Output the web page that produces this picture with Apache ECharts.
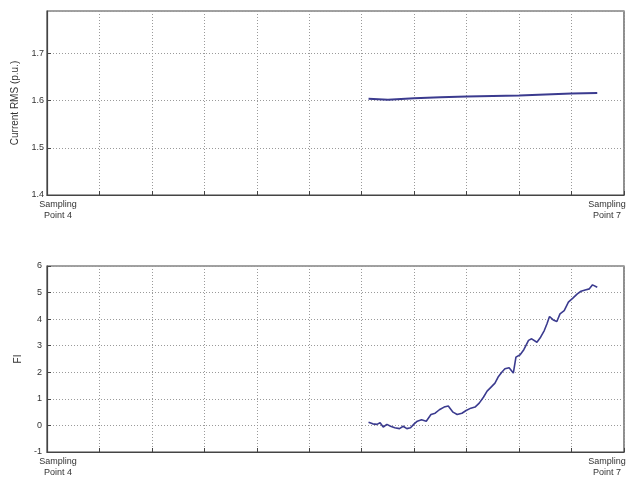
<!DOCTYPE html>
<html>
<head>
<meta charset="utf-8">
<script src="https://cdn.jsdelivr.net/npm/echarts@6/dist/echarts.min.js"></script>
<style>
  html, body { margin: 0; padding: 0; background: #fff; }
  #chart { width: 634px; height: 485px; }
</style>
</head>
<body>
<div id="chart"></div>
<script>
// x positions in grid cells (0 = Sampling Point 4, 11 = Sampling Point 7)
const rmsX = [6.13, 6.5, 7.0, 7.5, 8.0, 8.5, 9.0, 9.5, 10.0, 10.49]
const rmsY = [1.604, 1.602, 1.605, 1.607, 1.609, 1.610, 1.611, 1.613, 1.615, 1.616]

const fiX = [6.13, 6.21, 6.29, 6.35, 6.41, 6.48, 6.55, 6.63, 6.72, 6.79, 6.86, 6.93, 7.00, 7.06,
    7.14, 7.23, 7.32, 7.40, 7.48, 7.57, 7.65, 7.74, 7.82, 7.91, 7.99, 8.08, 8.16, 8.24, 8.32,
    8.39, 8.48, 8.54, 8.60, 8.67, 8.73, 8.81, 8.89, 8.94, 9.02, 9.09, 9.18, 9.24, 9.34, 9.41,
    9.48, 9.53, 9.58, 9.65, 9.72, 9.78, 9.86, 9.94, 10.03, 10.11, 10.18, 10.26, 10.34, 10.40, 10.49]
const fiY = [0.12, 0.06, 0.04, 0.10, -0.06, 0.04, -0.03, -0.09, -0.12, -0.03, -0.12, -0.09, 0.06, 0.16,
    0.21, 0.16, 0.41, 0.46, 0.59, 0.69, 0.73, 0.50, 0.41, 0.46, 0.56, 0.65, 0.69, 0.84, 1.06,
    1.29, 1.47, 1.59, 1.82, 2.00, 2.13, 2.17, 1.97, 2.57, 2.66, 2.85, 3.20, 3.26, 3.13, 3.32,
    3.57, 3.82, 4.10, 3.97, 3.91, 4.20, 4.32, 4.64, 4.80, 4.95, 5.05, 5.10, 5.14, 5.29, 5.20]

const font = 'Liberation Sans, Arial, sans-serif'
const lineColor = '#3b3b8f'
const gridLine = { show: true, lineStyle: { color: '#9a9a9a', type: [1, 2], width: 1 } }
const axisLine = { show: true, onZero: false, lineStyle: { color: '#444', width: 1.2 } }
const tick = { show: true, inside: true, length: 4, lineStyle: { color: '#444' } }

function xAxis(gridIndex) {
    return {
        type: 'value',
        gridIndex: gridIndex,
        min: 0,
        max: 11,
        interval: 1,
        axisLine: axisLine,
        axisTick: tick,
        splitLine: gridLine,
        axisLabel: {
            margin: 4,
            fontFamily: font,
            fontSize: 9,
            color: '#333',
            lineHeight: 11,
            formatter: function (v) {
                if (v === 0) return '{l|Sampling}\n{l|Point 4}'
                if (v === 11) return '{r|Sampling}\n{r|Point 7}'
                return ''
            },
            rich: {
                l: { fontFamily: font, fontSize: 9, color: '#333', padding: [0, 0, 0, 22], lineHeight: 11 },
                r: { fontFamily: font, fontSize: 9, color: '#333', padding: [0, 34, 0, 0], lineHeight: 11 },
            },
        },
    }
}

const chart = echarts.init(document.getElementById('chart'))
chart.setOption({
    backgroundColor: '#fff',
    animation: false,
    grid: [
        { left: 47, right: 10, top: 11, height: 184, show: true, borderColor: '#444', borderWidth: 1.2, outerBoundsMode: 'none', containLabel: false },
        { left: 47, right: 10, top: 266, height: 186, show: true, borderColor: '#444', borderWidth: 1.2, outerBoundsMode: 'none', containLabel: false },
    ],
    xAxis: [xAxis(0), xAxis(1)],
    yAxis: [
        {
            type: 'value',
            gridIndex: 0,
            min: 1.4,
            max: 1.79,
            interval: 0.1,
            name: 'Current RMS (p.u.)',
            nameLocation: 'middle',
            nameGap: 27,
            nameTextStyle: { fontFamily: font, fontSize: 10, color: '#333' },
            axisLine: axisLine,
            axisTick: tick,
            splitLine: gridLine,
            axisLabel: {
                margin: 3,
                fontFamily: font,
                fontSize: 9,
                color: '#333',
                showMaxLabel: false,
                formatter: function (v) { return v > 1.75 ? '' : v.toFixed(1) },
            },
        },
        {
            type: 'value',
            gridIndex: 1,
            min: -1,
            max: 6,
            interval: 1,
            name: 'FI',
            nameLocation: 'middle',
            nameGap: 22,
            nameTextStyle: { fontFamily: font, fontSize: 10, color: '#333' },
            axisLine: axisLine,
            axisTick: tick,
            splitLine: gridLine,
            axisLabel: { margin: 5, fontFamily: font, fontSize: 9, color: '#333' },
        },
    ],
    series: [
        {
            type: 'line',
            xAxisIndex: 0,
            yAxisIndex: 0,
            showSymbol: false,
            lineStyle: { color: lineColor, width: 2 },
            data: rmsX.map((x, i) => [x, rmsY[i]]),
        },
        {
            type: 'line',
            xAxisIndex: 1,
            yAxisIndex: 1,
            showSymbol: false,
            lineStyle: { color: lineColor, width: 1.6 },
            data: fiX.map((x, i) => [x, fiY[i]]),
        },
    ],
})
</script>
</body>
</html>
